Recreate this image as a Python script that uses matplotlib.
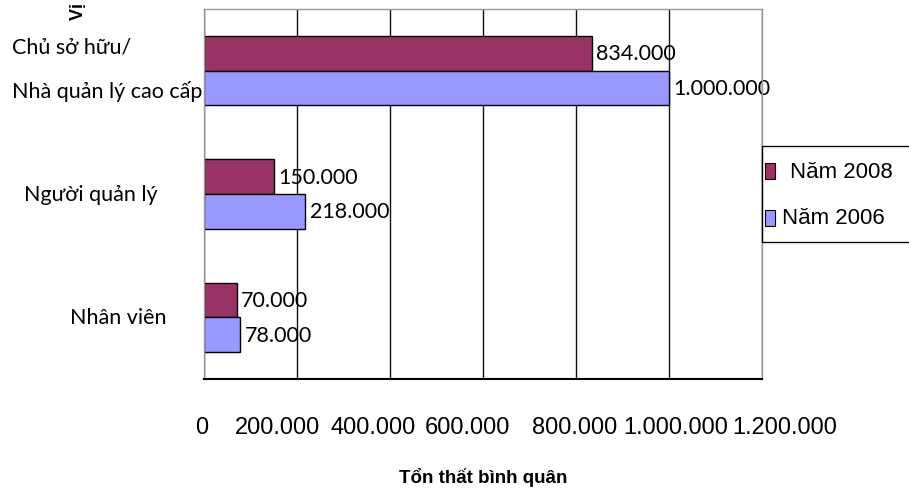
import matplotlib.pyplot as plt
import matplotlib.transforms as mtransforms
from matplotlib.patches import Rectangle
import numpy as np

categories = ['Chủ sở hữu/\nNhà quản lý cao cấp', 'Người quản lý', 'Nhân viên']
nam_2008 = [834000, 150000, 70000]
nam_2006 = [1000000, 218000, 78000]
xticks = [0, 200000, 400000, 600000, 800000, 1000000, 1200000]
xtick_labels = ['0', '200.000', '400.000', '600.000', '800.000', '1.000.000', '1.200.000']
series_names = ['Năm 2008', 'Năm 2006']
colors = ['#993366', '#9999FF']

W, H = 909, 489
fig = plt.figure(figsize=(W / 100, H / 100), dpi=100)
ax = fig.add_axes([204 / W, 1 - 380 / H, 558 / W, 370 / H])

sans = ['Liberation Sans', 'DejaVu Sans']
body = ['Lato', 'DejaVu Sans']


def fmt(v):
    return f'{v:,}'.replace(',', '.')


y = np.arange(len(categories))
h = 0.28
ax.barh(y - h / 2, nam_2008, height=h, color=colors[0], edgecolor='black', linewidth=1, zorder=2)
ax.barh(y + h / 2, nam_2006, height=h, color=colors[1], edgecolor='black', linewidth=1, zorder=2)
for i in range(len(categories)):
    ax.text(nam_2008[i] + 10000, y[i] - h / 2, fmt(nam_2008[i]), va='center', ha='left',
            fontsize=15.5, family=body, zorder=1)
    ax.text(nam_2006[i] + 10000, y[i] + h / 2, fmt(nam_2006[i]), va='center', ha='left',
            fontsize=15.5, family=body, zorder=1)

ax.set_ylim(2.5, -0.5)
ax.set_xlim(0, 1200000)
ax.set_xticks(xticks)
ax.set_xticklabels(xtick_labels, family=sans, fontsize=17)
ax.tick_params(axis='x', length=0, pad=27)
ax.set_yticks([])
ax.grid(axis='x', color='#111111', linewidth=1, zorder=0)
ax.set_axisbelow(True)
for s in ['top', 'right', 'left']:
    ax.spines[s].set_color('#999999')
    ax.spines[s].set_linewidth(1)
ax.spines['bottom'].set_color('black')
ax.spines['bottom'].set_linewidth(1.5)

# excel spreads the tick labels a bit unevenly
shifts = [-2, -20, -17, -16, -1, 7, 23]
for lab, dx in zip(ax.get_xticklabels(), shifts):
    lab.set_transform(lab.get_transform() + mtransforms.ScaledTranslation(dx / 100, 0, fig.dpi_scale_trans))

# category labels
fig.text(12 / W, 1 - 48 / H, 'Chủ sở hữu/', ha='left', va='center', fontsize=15.5, family=body)
fig.text(12 / W, 1 - 92 / H, 'Nhà quản lý cao cấp', ha='left', va='center', fontsize=15.5, family=body)
label_right = [None, -0.083, -0.068]
for i in range(1, len(categories)):
    ax.text(label_right[i], y[i], categories[i], transform=ax.get_yaxis_transform(), ha='right',
            va='center', fontsize=15.5, family=body)

fig.text(78 / W, 1 - 20 / H, 'Vị trí', rotation=90, ha='center', va='bottom',
         fontsize=13, fontweight='bold', family=sans)
fig.text(483 / W, 1 - 478 / H, 'Tổn thất bình quân', ha='center', va='center',
         fontsize=13.5, fontweight='bold', family=sans)

# legend box
fig.add_artist(Rectangle((762 / W, 1 - 243 / H), 160 / W, 96 / H, transform=fig.transFigure,
                         facecolor='white', edgecolor='black', linewidth=1))
fig.add_artist(Rectangle((765 / W, 1 - 180 / H), 10 / W, 16 / H, transform=fig.transFigure,
                         facecolor=colors[0], edgecolor='black', linewidth=0.8))
fig.add_artist(Rectangle((765 / W, 1 - 227 / H), 10 / W, 16 / H, transform=fig.transFigure,
                         facecolor=colors[1], edgecolor='black', linewidth=0.8))
fig.text(790 / W, 1 - 172 / H, series_names[0], ha='left', va='center', fontsize=16, family=sans)
fig.text(782 / W, 1 - 218 / H, series_names[1], ha='left', va='center', fontsize=16, family=sans)

fig.savefig('out.png', dpi=100)
